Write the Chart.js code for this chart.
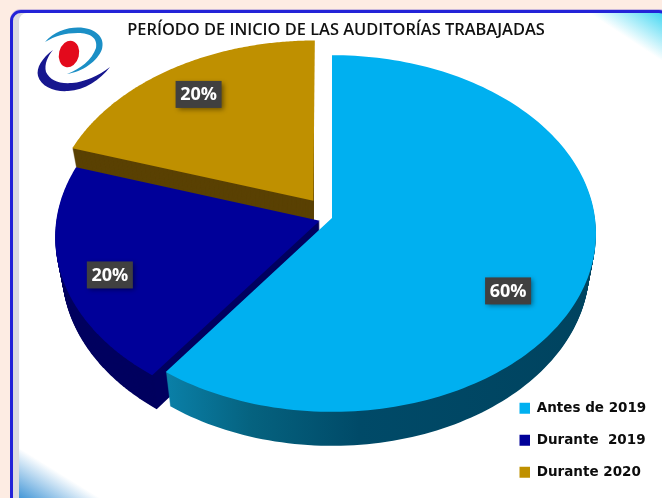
<!DOCTYPE html>
<html lang="es">
<head>
<meta charset="utf-8">
<title>Período de inicio de las auditorías trabajadas</title>
<script src="https://cdn.jsdelivr.net/npm/chart.js@4/dist/chart.umd.min.js"></script>
<style>
  html, body { margin: 0; padding: 0; width: 662px; height: 498px; overflow: hidden; background: #fdece3; }
  #panel {
    position: absolute; left: 10px; top: 10px; width: 660px; height: 500px; box-sizing: border-box;
    border: 3px solid #2323d8; border-radius: 11px; background-color: #fff;
    box-shadow: inset 6px 0 0 #dcdce0, 0 -1px 0 #c9b8dc;
    background-image:
      linear-gradient(to bottom left, #3fd6f2 0%, rgba(255,255,255,0) 50%),
      linear-gradient(to top right, #3c93d6 0%, rgba(255,255,255,0) 50%);
    background-repeat: no-repeat;
    background-size: 76px 50px, 84px 52px;
    background-position: 576px 0, 3px 433px;
  }
  #logo { position: absolute; left: 0; top: 0; width: 662px; height: 498px; }
  #c { position: absolute; left: 0; top: 0; }
</style>
</head>
<body>
<div id="panel"></div>
<svg id="logo" viewBox="0 0 662 498" aria-hidden="true">
  <path fill="#1b8fc6" d="M45,42 C55,30 72,26 84,28 C98,30 105,39 102,49 C98,61 82,72 67,74 C80,69 92,60 96,48 C98,38 90,33 78,33 C65,33 55,36 45,42Z"/>
  <path fill="#17178f" d="M53,50 C42,58 36,68 38,76 C41,87 55,92 68,91 C85,90 100,80 110,67 C98,76 85,82 72,83 C58,84 50,80 46,72 C44,64 48,56 53,50Z"/>
  <ellipse cx="69" cy="54" rx="10" ry="13.5" transform="rotate(14 69 54)" fill="#e30a1c"/>
</svg>
<canvas id="c" width="662" height="498"></canvas>
<script>
const titleText = 'PERÍODO DE INICIO DE LAS AUDITORÍAS TRABAJADAS';
const categories = ['Antes de 2019', 'Durante  2019', 'Durante 2020'];
const shares = [60, 20, 20];

const topColors = ['#00b0f0', '#000099', '#bf9000'];
const explode = [0, 13, 32];
const labelAlong = [0.563, 0.458, 0.5];
const labelRadius = [0.759, 0.83, 0.797];

const TILT = 0.0868, SQUASH = 0.673, DEPTH = 34, RADIUS = 263, WALL_SHRINK = 0.025;
const CENTER_X = 332, CENTER_Y = 218;

function project(arc, u, v) {
  const w = 1 - TILT * v, R = arc.outerRadius;
  return { x: arc.x + R * u / w, y: arc.y + SQUASH * R * v / w };
}
function explodeVec(arc) {
  const mid = (arc.startAngle + arc.endAngle) / 2, d = (arc.options.offset || 0) / arc.outerRadius;
  return [Math.cos(mid) * d, Math.sin(mid) * d];
}
function wedge(ctx, arc, dy) {
  const [ou, ov] = explodeVec(arc);
  const s = 1 - WALL_SHRINK * dy / DEPTH;
  const sx = x => arc.x + (x - arc.x) * s;
  const c = project(arc, ou, ov);
  ctx.beginPath();
  ctx.moveTo(sx(c.x), c.y + dy);
  const n = 160;
  for (let i = 0; i <= n; i++) {
    const a = arc.startAngle + (arc.endAngle - arc.startAngle) * i / n;
    const p = project(arc, ou + Math.cos(a), ov + Math.sin(a));
    ctx.lineTo(sx(p.x), p.y + dy);
  }
  ctx.closePath();
}
// Arcs keep the library's angles and radii; they are only seen through a tilted-disc projection.
Chart.ArcElement.prototype.draw = function (ctx) {
  wedge(ctx, this, 0);
  ctx.fillStyle = this.options.backgroundColor;
  ctx.fill();
};

const tiltedPie = {
  id: 'tiltedPie',
  afterLayout(chart) {
    chart.chartArea = { left: 0, right: CENTER_X * 2, top: 0, bottom: CENTER_Y * 2, width: CENTER_X * 2, height: CENTER_Y * 2 };
    const t = chart.titleBlock;
    t.left = 10; t.right = 662; t.top = 20.2; t.bottom = 40;
    const l = chart.legend;
    l.left = 501; l.right = 662; l.top = 383; l.bottom = 498;
  },
  beforeDatasetsDraw(chart) {
    const ctx = chart.ctx, arcs = chart.getDatasetMeta(0).data;
    const lightWall = ctx.createLinearGradient(166, 0, 596, 0);
    lightWall.addColorStop(0, '#0a80a8');
    lightWall.addColorStop(0.2, '#05627f');
    lightWall.addColorStop(0.45, '#004a68');
    lightWall.addColorStop(1, '#00435f');
    const walls = [lightWall, '#00005f', '#5a4103'];
    [2, 1, 0].forEach(i => {
      ctx.save();
      if (i === 2) {
        // the far slice's inner face looks away from the viewer
        const [ou, ov] = explodeVec(arcs[i]);
        ctx.beginPath();
        ctx.rect(0, 0, project(arcs[i], ou, ov).x, chart.height);
        ctx.clip();
      }
      ctx.fillStyle = walls[i];
      for (let d = DEPTH; d >= 1; d--) { wedge(ctx, arcs[i], d); ctx.fill(); }
      ctx.restore();
    });
  },
  afterDatasetsDraw(chart) {
    const ctx = chart.ctx, arcs = chart.getDatasetMeta(0).data;
    const total = shares.reduce((a, b) => a + b, 0);
    arcs.forEach((arc, i) => {
      const [ou, ov] = explodeVec(arc);
      const a = arc.startAngle + (arc.endAngle - arc.startAngle) * labelAlong[i];
      const p = project(arc, ou + Math.cos(a) * labelRadius[i], ov + Math.sin(a) * labelRadius[i]);
      ctx.save();
      ctx.shadowColor = 'rgba(0,0,0,0.45)';
      ctx.shadowBlur = 5; ctx.shadowOffsetX = 2; ctx.shadowOffsetY = 2;
      ctx.fillStyle = '#404040';
      ctx.fillRect(p.x - 23, p.y - 13.5, 46, 27);
      ctx.restore();
      ctx.save();
      ctx.fillStyle = '#ffffff';
      ctx.font = '700 18px "Open Sans"';
      ctx.textAlign = 'center';
      ctx.textBaseline = 'middle';
      ctx.fillText(Math.round(shares[i] / total * 100) + '%', p.x, p.y + 0.5);
      ctx.restore();
    });
  }
};

new Chart(document.getElementById('c'), {
  type: 'pie',
  data: {
    labels: categories,
    datasets: [{
      data: shares,
      backgroundColor: topColors,
      offset: explode,
      borderWidth: 0,
      radius: RADIUS,
      clip: false
    }]
  },
  options: {
    responsive: false,
    animation: false,
    events: [],
    plugins: {
      title: {
        display: true,
        text: titleText,
        color: '#111111',
        padding: 0,
        font: { family: '"Open Sans"', size: 16.4, weight: '600' }
      },
      legend: {
        display: true,
        position: 'right',
        align: 'start',
        labels: {
          boxWidth: 10.5,
          boxHeight: 11,
          padding: 18.5,
          color: '#0c0c0c',
          font: { family: '"DejaVu Sans"', size: 13.5, weight: '700' }
        }
      },
      tooltip: { enabled: false }
    }
  },
  plugins: [tiltedPie]
});
</script>
</body>
</html>
